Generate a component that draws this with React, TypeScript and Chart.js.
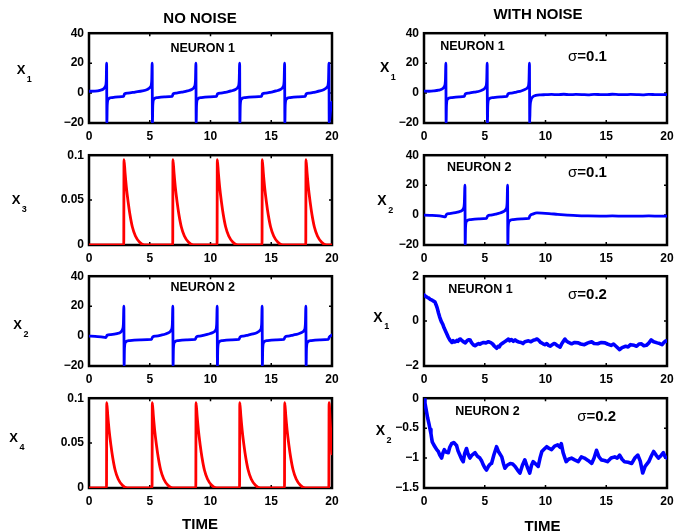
import React, { useEffect, useRef } from "react";
import { Chart, registerables } from "chart.js";
Chart.register(...registerables);

// ---------- tick labels ----------
const xTicks = [0, 5, 10, 15, 20];
const yTicksSpike = [-20, 0, 20, 40];
const yTicksSyn = [0, 0.05, 0.1];
const yTicksNoise1 = [-2, 0, 2];
const yTicksNoise2 = [-1.5, -1, -0.5, 0];

// ---------- series (time, value) ----------
const x1Clean: number[][] = [
  [0,1.2],[0.5,1.3],[0.9,1.8],[1.2,2.8],[1.35,4.5],[1.42,8],[1.45,20],[1.47,-20],[1.5,-8],[1.6,-4],[1.9,-3],[2.4,-2.5],[2.85,-2.2],[2.92,-0.6],[3.2,0],[3.8,0.7],[4.4,1.4],[4.8,2.4],[5.05,4],[5.16,8],
  [5.2,20],[5.22,-20],[5.25,-8],[5.35,-4],[5.65,-3],[6.2,-2.5],[6.85,-2.2],[6.92,-0.6],[7.2,0],[7.7,0.7],[8.1,1.4],[8.45,2.4],[8.66,4],[8.76,8],
  [8.8,20],[8.82,-20],[8.85,-8],[8.95,-4],[9.25,-3],[9.9,-2.5],[10.5,-2.2],[10.57,-0.6],[10.85,0],[11.3,0.7],[11.7,1.4],[12.05,2.4],[12.26,4],[12.36,8],
  [12.4,20],[12.42,-20],[12.45,-8],[12.55,-4],[12.85,-3],[13.6,-2.5],[14.2,-2.2],[14.27,-0.6],[14.55,0],[15.0,0.7],[15.4,1.4],[15.75,2.4],[15.96,4],[16.06,8],
  [16.1,20],[16.12,-20],[16.15,-8],[16.25,-4],[16.55,-3],[17.2,-2.5],[17.8,-2.2],[17.87,-0.6],[18.15,0],[18.6,0.7],[19.0,1.4],[19.35,2.4],[19.6,4],[19.71,8],
  [19.75,20],[19.77,-20],[19.88,-12],[20,-6],
];

const x3Clean: number[][] = [
  [0,0],[2.86,0],[2.88,0.095],[2.97,0.08],[3.07,0.065],[3.22,0.048],[3.37,0.034],[3.57,0.02],[3.82,0.01],[4.17,0.003],[4.57,0],
  [6.89,0],[6.91,0.095],[7.0,0.08],[7.1,0.065],[7.25,0.048],[7.4,0.034],[7.6,0.02],[7.85,0.01],[8.2,0.003],[8.6,0],
  [10.54,0],[10.56,0.095],[10.65,0.08],[10.75,0.065],[10.9,0.048],[11.05,0.034],[11.25,0.02],[11.5,0.01],[11.85,0.003],[12.25,0],
  [14.24,0],[14.26,0.095],[14.35,0.08],[14.45,0.065],[14.6,0.048],[14.75,0.034],[14.95,0.02],[15.2,0.01],[15.55,0.003],[15.95,0],
  [17.84,0],[17.86,0.095],[17.95,0.08],[18.05,0.065],[18.2,0.048],[18.35,0.034],[18.55,0.02],[18.8,0.01],[19.15,0.003],[19.55,0],[20,0],
];

const x2Clean: number[][] = [
  [0,0],[0.5,-0.2],[1.0,-0.6],[1.4,-1],[1.48,0.5],[1.8,1],[2.3,1.6],[2.6,2.6],[2.76,4.5],[2.83,8],
  [2.87,20],[2.89,-20],[2.92,-8],[3.02,-4],[3.35,-3],[4.2,-2.5],[5.15,-2.2],[5.23,-0.6],[5.5,0],[5.95,0.7],[6.3,1.4],[6.6,2.4],[6.77,4],[6.86,8],
  [6.9,20],[6.92,-20],[6.95,-8],[7.05,-4],[7.35,-3],[8.0,-2.5],[8.75,-2.2],[8.83,-0.6],[9.1,0],[9.5,0.7],[9.85,1.4],[10.2,2.4],[10.42,4],[10.51,8],
  [10.55,20],[10.57,-20],[10.6,-8],[10.7,-4],[11.0,-3],[11.7,-2.5],[12.35,-2.2],[12.43,-0.6],[12.7,0],[13.1,0.7],[13.5,1.4],[13.85,2.4],[14.1,4],[14.21,8],
  [14.25,20],[14.27,-20],[14.3,-8],[14.4,-4],[14.7,-3],[15.4,-2.5],[16.05,-2.2],[16.13,-0.6],[16.4,0],[16.8,0.7],[17.2,1.4],[17.5,2.4],[17.72,4],[17.81,8],
  [17.85,20],[17.87,-20],[17.9,-8],[18.0,-4],[18.3,-3],[19.0,-2.5],[19.7,-2.2],[19.78,-0.6],[20,0.8],
];

const x4Clean: number[][] = [
  [0,0],[1.44,0],[1.46,0.095],[1.55,0.08],[1.65,0.065],[1.8,0.048],[1.95,0.034],[2.15,0.02],[2.4,0.01],[2.75,0.003],[3.15,0],
  [5.19,0],[5.21,0.095],[5.3,0.08],[5.4,0.065],[5.55,0.048],[5.7,0.034],[5.9,0.02],[6.15,0.01],[6.5,0.003],[6.9,0],
  [8.79,0],[8.81,0.095],[8.9,0.08],[9.0,0.065],[9.15,0.048],[9.3,0.034],[9.5,0.02],[9.75,0.01],[10.1,0.003],[10.5,0],
  [12.39,0],[12.41,0.095],[12.5,0.08],[12.6,0.065],[12.75,0.048],[12.9,0.034],[13.1,0.02],[13.35,0.01],[13.7,0.003],[14.1,0],
  [16.09,0],[16.11,0.095],[16.2,0.08],[16.3,0.065],[16.45,0.048],[16.6,0.034],[16.8,0.02],[17.05,0.01],[17.4,0.003],[17.8,0],
  [19.74,0],[19.76,0.095],[19.85,0.075],[19.93,0.055],[20,0.038],
];

const x1Sigma01: number[][] = [
  [0,1.3],[0.4,1.2],[0.8,1.4],[1.2,1.9],[1.5,2.8],[1.68,4.5],[1.76,8],
  [1.8,20],[1.82,-20],[1.85,-8],[1.95,-4],[2.3,-3],[2.9,-2.5],[3.32,-2.2],[3.4,-0.6],[3.7,0],[4.2,0.7],[4.6,1.4],[4.9,2.4],[5.07,4],[5.16,8],
  [5.2,20],[5.22,-20],[5.25,-8],[5.35,-4],[5.7,-3],[6.3,-2.5],[6.83,-2.2],[6.91,-0.6],[7.2,0],[7.6,0.7],[8.0,1.4],[8.3,2.4],[8.55,4],[8.64,8],
  [8.68,20],[8.7,-20],[8.73,-10],[8.8,-5],[8.95,-2.6],[9.2,-1.6],[9.6,-1.2],[10,-1.1],[10.5,-0.9],[11,-1.1],[11.5,-0.8],[12,-1.1],[12.5,-0.9],[13,-1],[13.5,-1.2],[14,-0.9],
  [14.5,-1],[15,-1.1],[15.5,-0.8],[16,-1],[16.5,-1.1],[17,-0.9],[17.5,-1],[18,-1.2],[18.5,-0.9],[19,-1],[19.5,-1.1],[20,-1],
];

const x2Sigma01: number[][] = [
  [0,0],[0.5,-0.2],[1.0,-0.4],[1.5,-0.8],[1.76,-1.2],[1.84,0.4],[2.1,1],[2.6,1.6],[3.0,2.5],[3.22,4],[3.32,8],
  [3.37,20],[3.39,-20],[3.42,-8],[3.52,-4],[3.85,-3],[4.5,-2.5],[5.15,-2.2],[5.23,-0.6],[5.5,0],[5.9,0.7],[6.25,1.4],[6.55,2.4],[6.75,4],[6.84,8],
  [6.88,20],[6.9,-20],[6.93,-8],[7.03,-4],[7.35,-3],[8.0,-2.5],[8.63,-2.2],[8.72,-0.5],[9.0,0.8],[9.3,1.4],[9.7,1.3],[10.3,1],[11,0.5],[11.8,0],
  [12.6,-0.4],[13.5,-0.6],[14.5,-0.7],[15.5,-0.6],[16.5,-0.7],[17.5,-0.7],[18.5,-0.6],[19.5,-0.7],[20,-0.7],
];

const x1Sigma02: number[][] = [
  [0,1.17],[0.1,1.12],[0.2,1.08],[0.3,1.05],[0.41,1.02],[0.5,0.97],[0.6,0.95],[0.7,0.92],[0.82,0.88],[0.9,0.85],[1.0,0.72],[1.09,0.58],[1.2,0.35],[1.28,0.2],[1.36,0.07],
  [1.45,-0.05],[1.55,-0.15],[1.65,-0.3],[1.77,-0.44],[1.9,-0.6],[2.0,-0.72],[2.1,-0.82],[2.18,-0.88],[2.3,-0.95],[2.4,-0.87],[2.5,-0.93],[2.59,-0.92],[2.7,-0.86],[2.8,-0.9],
  [2.9,-0.82],[3.0,-0.8],[3.1,-0.86],[3.2,-0.9],[3.3,-0.94],[3.4,-0.97],[3.5,-0.9],[3.6,-0.85],[3.7,-0.83],[3.8,-0.84],[3.9,-0.95],[4.0,-1.02],[4.1,-1.07],[4.2,-1.1],
  [4.35,-1.04],[4.5,-1.0],[4.6,-1.03],[4.75,-0.98],[4.9,-0.95],[5.1,-0.97],[5.3,-0.92],[5.5,-0.96],[5.65,-1.02],[5.8,-1.12],[5.98,-1.21],[6.1,-1.12],[6.2,-1.15],[6.3,-1.05],
  [6.4,-1.01],[6.55,-0.95],[6.7,-0.9],[6.85,-0.84],[6.95,-0.8],[7.05,-0.88],[7.2,-0.82],[7.35,-0.9],[7.5,-0.84],[7.65,-0.9],[7.8,-0.93],[8.0,-0.95],[8.15,-1.0],[8.3,-0.92],
  [8.45,-0.9],[8.6,-0.88],[8.8,-0.92],[9.0,-0.85],[9.15,-0.83],[9.3,-0.8],[9.45,-0.86],[9.6,-0.95],[9.8,-1.01],[9.95,-1.05],[10.1,-1.0],[10.25,-1.08],[10.4,-1.12],[10.55,-1.05],
  [10.7,-1.0],[10.8,-1.01],[11.0,-1.1],[11.2,-1.16],[11.35,-1.0],[11.5,-0.88],[11.6,-0.8],[11.75,-0.9],[11.9,-0.95],[12.15,-1.01],[12.4,-0.95],[12.7,-0.97],[12.9,-1.02],
  [13.2,-1.05],[13.45,-0.98],[13.6,-0.95],[13.8,-0.92],[14.0,-1.0],[14.3,-1.01],[14.6,-0.95],[14.9,-0.97],[15.1,-1.02],[15.4,-1.08],[15.6,-1.02],[15.8,-1.12],[16.1,-1.27],
  [16.3,-1.18],[16.6,-1.12],[16.8,-1.15],[17.0,-1.05],[17.3,-1.08],[17.5,-1.12],[17.7,-1.02],[17.9,-1.01],[18.1,-1.1],[18.3,-1.08],[18.5,-0.98],[18.7,-0.84],[18.9,-0.92],
  [19.2,-0.97],[19.4,-1.0],[19.6,-1.05],[19.75,-0.95],[19.9,-0.88],[20,-0.9],
];

const x2Sigma02: number[][] = [
  [0,-0.01],[0.08,-0.08],[0.15,-0.16],[0.22,-0.24],[0.3,-0.33],[0.41,-0.43],[0.5,-0.52],[0.57,-0.59],[0.63,-0.67],[0.68,-0.73],[0.78,-0.77],[0.9,-0.81],[1.05,-0.86],
  [1.18,-0.89],[1.3,-0.95],[1.45,-1.0],[1.55,-0.92],[1.67,-0.86],[1.8,-0.9],[2.0,-0.91],[2.12,-0.82],[2.27,-0.76],[2.45,-0.74],[2.68,-0.79],[2.8,-0.88],[2.95,-0.95],
  [3.1,-1.02],[3.23,-1.06],[3.35,-0.92],[3.5,-0.84],[3.62,-0.93],[3.78,-1.0],[3.95,-0.95],[4.2,-0.91],[4.4,-0.97],[4.6,-1.0],[4.75,-1.05],[4.87,-1.11],[5.0,-1.16],
  [5.15,-1.2],[5.3,-1.14],[5.45,-1.1],[5.56,-1.09],[5.75,-0.95],[5.97,-0.81],[6.15,-0.9],[6.4,-0.98],[6.55,-1.1],[6.66,-1.17],[6.85,-1.12],[7.1,-1.09],[7.3,-1.1],
  [7.5,-1.14],[7.7,-1.2],[7.9,-1.25],[8.1,-1.12],[8.3,-1.03],[8.5,-1.15],[8.7,-1.25],[8.85,-1.12],[8.98,-1.06],[9.2,-1.1],[9.4,-1.14],[9.55,-1.0],[9.7,-0.89],
  [9.9,-0.85],[10.1,-0.81],[10.3,-0.84],[10.5,-0.86],[10.75,-0.8],[11.0,-0.78],[11.2,-0.82],[11.3,-0.76],[11.45,-0.91],[11.6,-1.0],[11.7,-1.06],[11.9,-1.02],
  [12.14,-1.0],[12.4,-1.03],[12.7,-1.06],[12.95,-0.98],[13.2,-1.0],[13.5,-1.04],[13.8,-1.09],[14.0,-1.0],[14.2,-0.87],[14.4,-0.98],[14.6,-1.03],[14.85,-1.04],
  [15.1,-1.06],[15.4,-1.0],[15.7,-0.98],[15.9,-1.0],[16.1,-0.95],[16.3,-1.02],[16.5,-1.06],[16.8,-1.07],[17.1,-1.09],[17.35,-1.0],[17.6,-0.95],[17.8,-1.05],
  [18.0,-1.25],[18.2,-1.14],[18.5,-1.06],[18.7,-0.97],[18.9,-0.89],[19.1,-0.95],[19.3,-1.0],[19.5,-0.96],[19.7,-0.91],[19.85,-0.98],[20,-1.0],
];

// ---------- styling / layout ----------
const BLUE = "#0000ff";
const RED = "#ff0000";
const FONT = "'Liberation Sans', Arial, Helvetica, sans-serif";
const PLOT_W = 243;
const PLOT_H = 92;
const PAD_L = 60;
const PAD_T = 10;
const PAD_R = 14;
const PAD_B = 26;

type PanelDef = {
  id: string;
  left: number;
  top: number;
  data: number[][];
  color: string;
  yTicks: number[];
  smooth: boolean;
  width: number;
};

const panels: PanelDef[] = [
  { id: "l1", left: 89, top: 31, data: x1Clean, color: BLUE, yTicks: yTicksSpike, smooth: true, width: 2.8 },
  { id: "l2", left: 89, top: 153, data: x3Clean, color: RED, yTicks: yTicksSyn, smooth: true, width: 2.8 },
  { id: "l3", left: 89, top: 274, data: x2Clean, color: BLUE, yTicks: yTicksSpike, smooth: true, width: 2.8 },
  { id: "l4", left: 89, top: 396, data: x4Clean, color: RED, yTicks: yTicksSyn, smooth: true, width: 2.8 },
  { id: "r1", left: 424, top: 31, data: x1Sigma01, color: BLUE, yTicks: yTicksSpike, smooth: true, width: 2.8 },
  { id: "r2", left: 424, top: 153, data: x2Sigma01, color: BLUE, yTicks: yTicksSpike, smooth: true, width: 2.8 },
  { id: "r3", left: 424, top: 274, data: x1Sigma02, color: BLUE, yTicks: yTicksNoise1, smooth: false, width: 3.6 },
  { id: "r4", left: 424, top: 396, data: x2Sigma02, color: BLUE, yTicks: yTicksNoise2, smooth: false, width: 3.6 },
];

type TextDef = { text: string; sub?: string; sigma?: boolean; x: number; y: number; size: number; center?: boolean };

const texts: TextDef[] = [
  { text: "NO NOISE", x: 200, y: 9.6, size: 15, center: true },
  { text: "WITH NOISE", x: 538, y: 6, size: 15, center: true },
  { text: "TIME", x: 200, y: 516, size: 15, center: true },
  { text: "TIME", x: 542.5, y: 517.6, size: 15, center: true },
  { text: "NEURON 1", x: 202.7, y: 42.3, size: 12.5, center: true },
  { text: "NEURON 2", x: 202.7, y: 281.3, size: 12.5, center: true },
  { text: "NEURON 1", x: 472.5, y: 40.3, size: 12.5, center: true },
  { text: "NEURON 2", x: 479.2, y: 161.3, size: 12.5, center: true },
  { text: "NEURON 1", x: 480.5, y: 283, size: 12.5, center: true },
  { text: "NEURON 2", x: 487.5, y: 404.7, size: 12.5, center: true },
  { text: "=0.1", sigma: true, x: 587.5, y: 48.3, size: 15, center: true },
  { text: "=0.1", sigma: true, x: 587.5, y: 164.3, size: 15, center: true },
  { text: "=0.2", sigma: true, x: 587.5, y: 286, size: 15, center: true },
  { text: "=0.2", sigma: true, x: 596.7, y: 407.6, size: 15, center: true },
  { text: "X", sub: "1", x: 16.7, y: 63, size: 13 },
  { text: "X", sub: "3", x: 11.7, y: 193, size: 13 },
  { text: "X", sub: "2", x: 13.3, y: 318, size: 13 },
  { text: "X", sub: "4", x: 9.3, y: 431.3, size: 13 },
  { text: "X", sub: "1", x: 380, y: 60.2, size: 14 },
  { text: "X", sub: "2", x: 377.3, y: 193, size: 14 },
  { text: "X", sub: "1", x: 373.3, y: 309.5, size: 14 },
  { text: "X", sub: "2", x: 375.7, y: 423, size: 14 },
];

const fmt = (v: number) => String(Math.round(v * 1000) / 1000).replace("-", "\u2212");

const framePlugin = {
  id: "frameBox",
  beforeDatasetsDraw(chart: any) {
    const { ctx, chartArea: a, scales } = chart;
    ctx.save();
    ctx.strokeStyle = "#000";
    ctx.lineWidth = 1.5;
    ctx.beginPath();
    scales.x.ticks.forEach((t: any) => {
      const px = scales.x.getPixelForValue(t.value);
      ctx.moveTo(px, a.bottom);
      ctx.lineTo(px, a.bottom - 3);
      ctx.moveTo(px, a.top);
      ctx.lineTo(px, a.top + 3);
    });
    scales.y.ticks.forEach((t: any) => {
      const py = scales.y.getPixelForValue(t.value);
      ctx.moveTo(a.left, py);
      ctx.lineTo(a.left + 3, py);
      ctx.moveTo(a.right, py);
      ctx.lineTo(a.right - 3, py);
    });
    ctx.stroke();
    ctx.lineWidth = 2.5;
    ctx.strokeRect(a.left, a.top, a.right - a.left, a.bottom - a.top);
    ctx.restore();
  },
};

function Panel({ p }: { p: PanelDef }) {
  const ref = useRef<HTMLCanvasElement>(null);
  const W = PLOT_W + PAD_L + PAD_R;
  const H = PLOT_H + PAD_T + PAD_B;
  useEffect(() => {
    const tickFont = { family: FONT, size: 12, weight: "bold" as const };
    const chart = new Chart(ref.current as HTMLCanvasElement, {
      type: "line",
      data: {
        datasets: [
          {
            data: p.data.map(([x, y]) => ({ x, y })),
            borderColor: p.color,
            borderWidth: p.width,
            pointRadius: 0,
            fill: false,
            tension: 0,
            cubicInterpolationMode: p.smooth ? "monotone" : "default",
            borderJoinStyle: "round",
            borderCapStyle: "round",
          } as any,
        ],
      },
      options: {
        responsive: false,
        maintainAspectRatio: false,
        animation: false,
        layout: { padding: { left: 0, top: PAD_T, right: PAD_R, bottom: 0 } },
        plugins: { legend: { display: false }, tooltip: { enabled: false } },
        scales: {
          x: {
            type: "linear",
            min: xTicks[0],
            max: xTicks[xTicks.length - 1],
            afterBuildTicks: (s: any) => {
              s.ticks = xTicks.map((v) => ({ value: v }));
            },
            afterFit: (s: any) => {
              s.height = PAD_B;
            },
            grid: { display: false, drawTicks: false },
            border: { display: false },
            ticks: {
              color: "#000",
              font: tickFont,
              padding: 6,
              maxRotation: 0,
              autoSkip: false,
              callback: (v: any) => fmt(Number(v)),
            },
          },
          y: {
            type: "linear",
            min: p.yTicks[0],
            max: p.yTicks[p.yTicks.length - 1],
            afterBuildTicks: (s: any) => {
              s.ticks = p.yTicks.map((v) => ({ value: v }));
            },
            afterFit: (s: any) => {
              s.width = PAD_L;
            },
            grid: { display: false, drawTicks: false },
            border: { display: false },
            ticks: {
              color: "#000",
              font: tickFont,
              padding: 5,
              autoSkip: false,
              callback: (v: any) => fmt(Number(v)),
            },
          },
        },
      } as any,
      plugins: [framePlugin],
    });
    return () => chart.destroy();
  }, [p]);
  return (
    <canvas
      ref={ref}
      width={W}
      height={H}
      style={{ position: "absolute", left: p.left - PAD_L, top: p.top - PAD_T, width: W, height: H }}
    />
  );
}

export default function App() {
  return (
    <div
      style={{
        position: "absolute",
        left: 0,
        top: 0,
        width: 690,
        height: 531,
        background: "#fff",
        overflow: "hidden",
      }}
    >
      {panels.map((p) => (
        <Panel key={p.id} p={p} />
      ))}
      {texts.map((t, i) => (
        <div
          key={i}
          style={{
            position: "absolute",
            left: t.x,
            top: t.y,
            transform: t.center ? "translateX(-50%)" : undefined,
            fontFamily: FONT,
            fontWeight: "bold",
            fontSize: t.size,
            lineHeight: 1,
            whiteSpace: "nowrap",
            color: "#000",
          }}
        >
          {t.sigma ? <span style={{ fontWeight: "normal" }}>σ</span> : null}
          {t.text}
          {t.sub ? (
            <span style={{ fontSize: 9, position: "relative", top: 7.5, marginLeft: 1.5 }}>{t.sub}</span>
          ) : null}
        </div>
      ))}
    </div>
  );
}
